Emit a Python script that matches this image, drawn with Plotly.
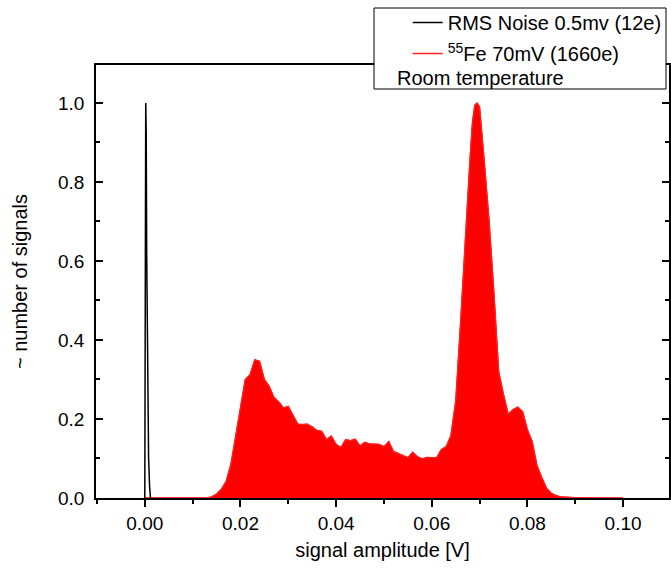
import plotly.graph_objects as go

# Normalised pulse-height spectra, amplitude in volts
noise_amplitude = [0.0000, 0.0001, 0.0002, 0.0003, 0.0004, 0.0005, 0.0006,
                   0.0007, 0.0008, 0.0010, 0.0012]
noise_counts = [0.00, 0.30, 1.00, 0.92, 0.62, 0.48, 0.32, 0.18, 0.10, 0.03, 0.00]

fe_amplitude = [0.000, 0.013,
                0.014, 0.015, 0.016, 0.017, 0.018, 0.019, 0.020, 0.021, 0.022,
                0.023, 0.024, 0.025, 0.026, 0.027, 0.028, 0.029, 0.030, 0.031,
                0.032, 0.033, 0.034, 0.035, 0.036, 0.037, 0.038, 0.039, 0.040,
                0.041, 0.042, 0.043, 0.044, 0.045, 0.046, 0.047, 0.048, 0.049,
                0.050, 0.051, 0.052, 0.053, 0.054, 0.055, 0.056, 0.057, 0.058,
                0.059, 0.060, 0.061, 0.062, 0.063, 0.064, 0.065, 0.066, 0.067,
                0.068, 0.0685, 0.069, 0.0695, 0.070, 0.071, 0.072, 0.073, 0.074,
                0.075, 0.076,
                0.077, 0.078, 0.079, 0.080, 0.081, 0.082, 0.083, 0.084, 0.085,
                0.086, 0.087, 0.088, 0.090, 0.095, 0.100]
fe_counts = [0.000, 0.000,
             0.003, 0.010, 0.022, 0.042, 0.085, 0.155, 0.235, 0.300, 0.312,
             0.350, 0.346, 0.300, 0.283, 0.255, 0.244, 0.228, 0.232, 0.209,
             0.187, 0.186, 0.187, 0.180, 0.171, 0.169, 0.148, 0.157, 0.136,
             0.128, 0.148, 0.145, 0.149, 0.132, 0.141, 0.137, 0.136, 0.136,
             0.130, 0.143, 0.118, 0.113, 0.108, 0.102, 0.116, 0.105, 0.099,
             0.103, 0.102, 0.102, 0.123, 0.130, 0.158, 0.245, 0.440, 0.660,
             0.860, 0.950, 0.995, 1.000, 0.990, 0.850, 0.700, 0.520, 0.320,
             0.262, 0.212,
             0.224, 0.230, 0.219, 0.173, 0.143, 0.082, 0.052, 0.025, 0.012,
             0.006, 0.003, 0.002, 0.001, 0.000, 0.000]

noise_label = "RMS Noise 0.5mv (12e)"
fe_label = "<sup>55</sup>Fe 70mV (1660e)"
note_label = "Room temperature"

FONT = "Liberation Sans, Arial, sans-serif"
X_RANGE = [-0.0102, 0.1096]
Y_RANGE = [0, 1.096]

fig = go.Figure()

# filled spectrum area
fig.add_trace(go.Scatter(
    x=fe_amplitude, y=fe_counts, mode="lines", showlegend=False,
    line=dict(color="#ff0000", width=1), fill="tozeroy",
    fillcolor="#ff0000", hoverinfo="skip",
))
# outline of the same spectrum, carries the legend entry
fig.add_trace(go.Scatter(
    x=fe_amplitude, y=fe_counts, name=fe_label, mode="lines",
    line=dict(color="#ff2020", width=1.3), legendrank=2, legendgroup="fe",
))
fig.add_trace(go.Scatter(
    x=noise_amplitude, y=noise_counts, name=noise_label, mode="lines",
    line=dict(color="black", width=1.5), legendrank=1, legendgroup="noise",
))

fig.update_layout(
    width=671, height=569,
    margin=dict(l=96, r=0, t=65, b=71),
    paper_bgcolor="white", plot_bgcolor="white",
    font=dict(family=FONT, size=19, color="black"),
    showlegend=True,
    legend=dict(
        x=0.544, y=(498 - 3) / 433, xanchor="left", yanchor="top",
        bgcolor="rgba(0,0,0,0)", borderwidth=0,
        font=dict(size=20), tracegroupgap=2,
    ),
    xaxis=dict(
        range=X_RANGE, dtick=0.02, tick0=0, tickformat=".2f",
        ticks="outside", ticklen=7, tickwidth=1.5, tickcolor="black",
        minor=dict(dtick=0.01, ticks="outside", ticklen=4, tickwidth=1.5,
                   tickcolor="black"),
        showline=True, linecolor="black", linewidth=1.5, mirror=True,
        showgrid=False, zeroline=False,
        title=dict(text="signal amplitude [V]", standoff=10,
                   font=dict(size=20)),
    ),
    xaxis2=dict(
        range=X_RANGE, overlaying="x", side="top", anchor="y",
        dtick=0.02, tick0=0, showticklabels=False,
        ticks="inside", ticklen=7, tickwidth=1.5, tickcolor="black",
        minor=dict(dtick=0.01, ticks="inside", ticklen=4, tickwidth=1.5,
                   tickcolor="black"),
        showline=False, showgrid=False, zeroline=False,
    ),
    yaxis=dict(
        range=Y_RANGE, dtick=0.2, tick0=0, tickformat=".1f",
        ticks="inside", ticklen=7, tickwidth=1.5, tickcolor="black",
        minor=dict(dtick=0.1, ticks="inside", ticklen=4, tickwidth=1.5,
                   tickcolor="black"),
        showline=True, linecolor="black", linewidth=1.5, mirror="ticks",
        showgrid=False, zeroline=False, ticklabelstandoff=6,
        title=dict(text="~ number of signals", standoff=25,
                   font=dict(size=20)),
    ),
    shapes=[dict(
        type="rect", xref="paper", yref="paper", layer="above",
        x0=(375 - 96) / 575, x1=(668 - 96) / 575,
        y0=(498 - 89) / 433, y1=(498 - 8) / 433,
        fillcolor="white", line=dict(color="black", width=1),
    )],
    annotations=[dict(
        text=note_label, xref="paper", yref="paper",
        x=(396 - 96) / 575, y=(498 - 78) / 433,
        xanchor="left", yanchor="middle", showarrow=False,
        font=dict(size=20),
    )],
)

fig.write_html("out.html")
